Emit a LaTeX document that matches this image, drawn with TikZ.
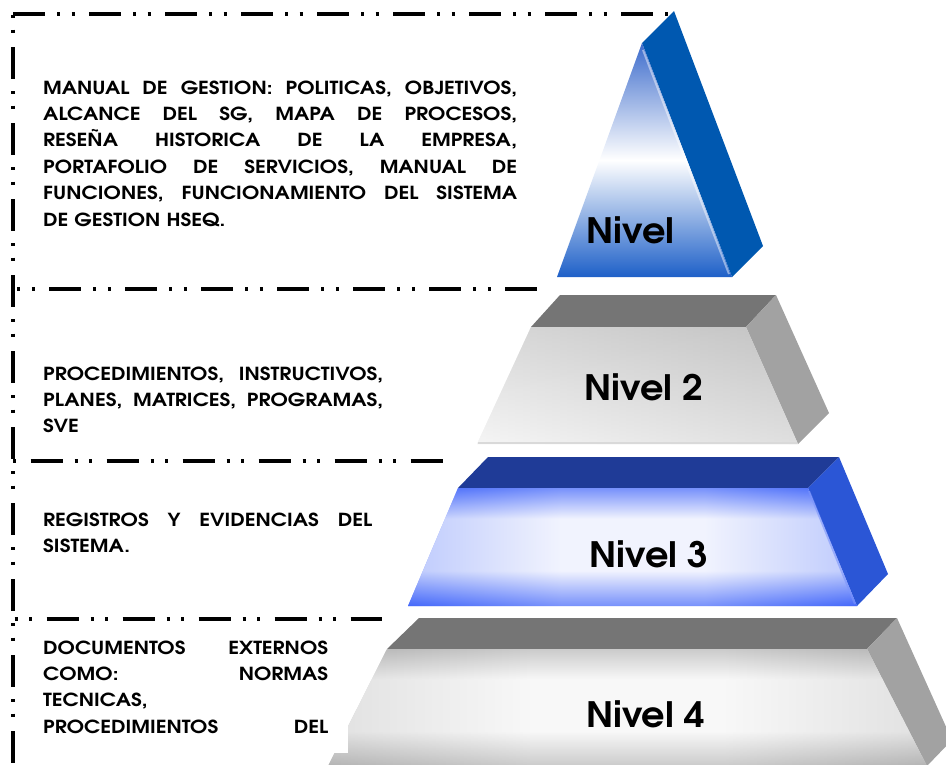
\documentclass[tikz,border=0pt]{standalone}
\usepackage{fontspec}
\newfontfamily\advb[FakeStretch=1.15]{texgyreadventor-bold.otf}
\newfontfamily\advl[FakeStretch=1.05]{texgyreadventor-bold.otf}
\definecolor{triside}{HTML}{0058B0}
\definecolor{tritop}{HTML}{3D6CCC}
\definecolor{tribot}{HTML}{1E60C8}
\definecolor{gtop}{HTML}{757575}
\definecolor{gside}{HTML}{A2A2A2}
\definecolor{btop}{HTML}{1F3B97}
\definecolor{bside}{HTML}{2B56D6}
\definecolor{bedge}{HTML}{4468FA}
\definecolor{bmid}{HTML}{D8DEFD}
\definecolor{gedge}{HTML}{B4B4B4}
\definecolor{gmid}{HTML}{EEEEEE}
\pgfdeclarehorizontalshading{bhor}{100bp}{color(0bp)=(bedge); color(25bp)=(bedge); color(42bp)=(bmid); color(58bp)=(bmid); color(75bp)=(bedge); color(100bp)=(bedge)}
\pgfdeclareverticalshading{bver}{100bp}{color(0bp)=(bedge); color(25bp)=(bedge); color(40bp)=(white); color(62bp)=(white); color(75bp)=(bedge); color(100bp)=(bedge)}
\pgfdeclarehorizontalshading{ghor}{100bp}{color(0bp)=(gedge); color(25bp)=(gedge); color(42bp)=(gmid); color(58bp)=(gmid); color(75bp)=(gedge); color(100bp)=(gedge)}
\pgfdeclareverticalshading{gver}{100bp}{color(0bp)=(gedge); color(25bp)=(gedge); color(40bp)=(white); color(62bp)=(white); color(75bp)=(gedge); color(100bp)=(gedge)}
\newcommand{\jl}{\hspace{0pt plus 1fill}}
\newcommand{\jline}[2]{\leavevmode\hbox to #1{#2}}
\tikzset{
  frame/.style={line width=3.2pt, dash pattern=on 32pt off 12pt on 3pt off 11.5pt on 3pt off 14.5pt},
  bodytext/.style={font=\advb\fontsize{18}{26.4}\selectfont, inner sep=0pt, anchor=base west},
  lvl/.style={font=\advl\fontsize{35}{40}\selectfont, inner sep=0pt, anchor=base},
}
\begin{document}
\begin{tikzpicture}[x=1pt,y=-1pt]
\useasboundingbox (0,0) rectangle (946,764);
\clip (0,0) rectangle (946,764);
% ---- level 1 (triangle)
\fill[triside] (642,43) -- (674,11) -- (763,246) -- (732,277) -- cycle;
\shade[top color=tritop, bottom color=tribot, middle color=white] (642,43) -- (732,277) -- (557,277) -- cycle;
\draw[white, opacity=0.45, line width=2pt] (643,50) -- (729,274);
% ---- level 2
\fill[gtop] (531,327) -- (560,295) -- (776,295) -- (746,327) -- cycle;
\fill[gside] (746,327) -- (776,295) -- (829,413) -- (798,444) -- cycle;
\shade[left color=white!92!black, middle color=white, right color=white!75!black] (531,327) -- (746,327) -- (798,444) -- (477,444) -- cycle;
\shade[top color=white!78!black, bottom color=white, fill opacity=0.5] (531,327) -- (746,327) -- (798,444) -- (477,444) -- cycle;
\draw[white!85!black, line width=1.5pt] (478,443) -- (797,443);
% ---- level 3
\fill[btop] (458,488) -- (488,457) -- (839,457) -- (808,488) -- cycle;
\fill[bside] (808,488) -- (839,457) -- (888,574) -- (857,606) -- cycle;
\shade[shading=bhor] (458,488) -- (808,488) -- (857,606) -- (408,606) -- cycle;
\shade[shading=bver, fill opacity=0.65] (458,488) -- (808,488) -- (857,606) -- (408,606) -- cycle;
\draw[bedge!70!white, opacity=0.6, line width=2pt] (809,491) -- (855,604);
% ---- level 4
\fill[gtop] (419,618) -- (387,649) -- (867,649) -- (897,618) -- cycle;
\fill[gside] (867,649) -- (897,618) -- (952,740) -- (927,766) -- cycle;
\shade[shading=ghor] (387,649) -- (867,649) -- (927,766) -- (328,766) -- cycle;
\shade[shading=gver, fill opacity=0.6] (387,649) -- (867,649) -- (927,766) -- (328,766) -- cycle;
% white text box of level 4
\fill[white] (16,625) rectangle (347.5,753);
% ---- dashed frames
\draw[frame] (13,14) -- (670,14);
\draw[frame, dash phase=43] (13,14) -- (13,764);
\draw[frame, dash phase=39.7] (13,289) -- (537,289);
\draw[frame, dash phase=58.3] (13,461) -- (443,461);
\draw[frame, dash phase=42.3] (13,619) -- (382,619);
% ---- level labels
\node[lvl] (n1) at (630.5,243) {Nivel};
\node[lvl] (n2) at (644,400) {Nivel 2};
\node[lvl] (n3) at (649,567) {Nivel 3};
\node[lvl] (n4) at (645.5,727) {Nivel 4};
% ---- texts
\node[bodytext, text width=474pt] (t1) at (43,94) {%
\jline{474pt}{MANUAL\jl{} DE\jl{} GESTION:\jl{} POLITICAS,\jl{} OBJETIVOS,}\\
\jline{474pt}{ALCANCE\jl{} DEL\jl{} SG,\jl{} MAPA\jl{} DE\jl{} PROCESOS,}\\
\jline{474pt}{RESEÑA\jl{} HISTORICA\jl{} DE\jl{} LA\jl{} EMPRESA,}\\
\jline{474pt}{PORTAFOLIO\jl{} DE\jl{} SERVICIOS,\jl{} MANUAL\jl{} DE}\\
\jline{474pt}{FUNCIONES,\jl{} FUNCIONAMIENTO\jl{} DEL\jl{} SISTEMA}\\
DE GESTION HSEQ.};
\node[bodytext, text width=340pt] (t2) at (43,380) {%
\jline{340pt}{PROCEDIMIENTOS,\jl{} INSTRUCTIVOS,}\\
\jline{340pt}{PLANES,\jl{} MATRICES,\jl{} PROGRAMAS,}\\
SVE};
\node[bodytext, text width=329pt] (t3) at (43,526) {%
\jline{329pt}{REGISTROS\jl{} Y\jl{} EVIDENCIAS\jl{} DEL}\\
SISTEMA.};
\node[bodytext, text width=285pt] (t4) at (43,654) {%
\jline{285pt}{DOCUMENTOS\jl{} EXTERNOS}\\
\jline{285pt}{COMO:\jl{} NORMAS}\\
TECNICAS,\\
\jline{285pt}{PROCEDIMIENTOS\jl{} DEL}};
\end{tikzpicture}
\end{document}
